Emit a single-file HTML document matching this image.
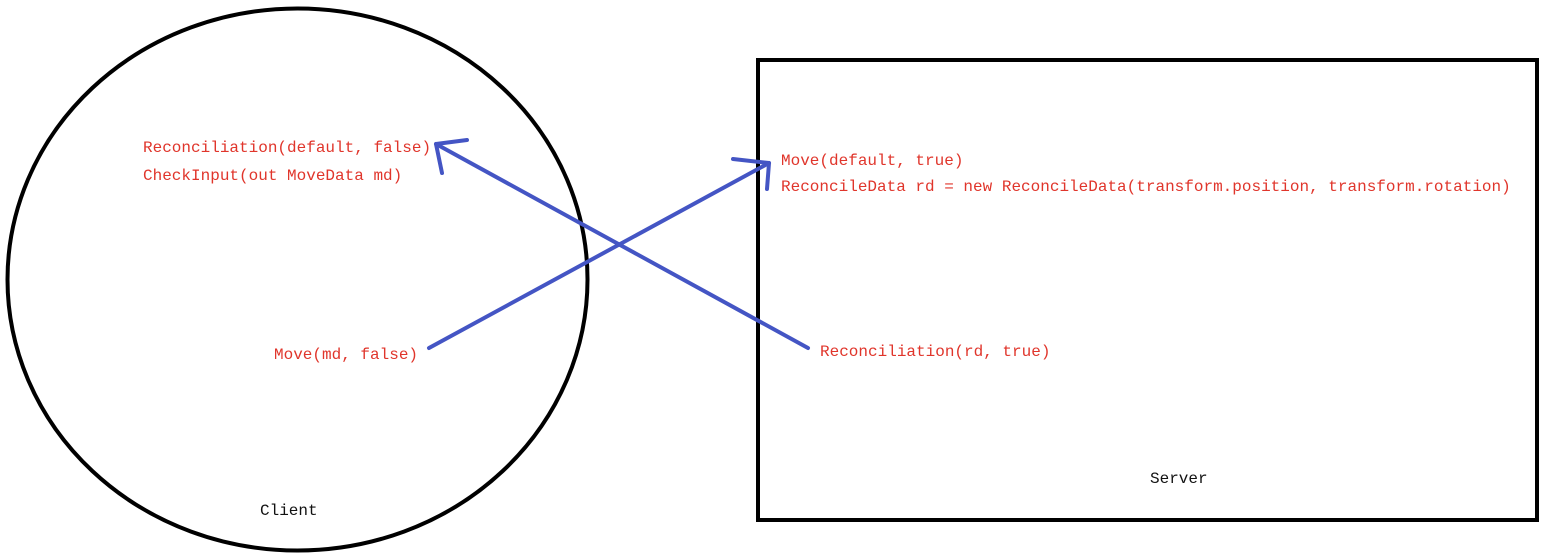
<!DOCTYPE html>
<html><head><meta charset="utf-8"><style>
html,body{margin:0;padding:0;background:#fff;}
svg{display:block;}
text{font-family:"Liberation Mono","Noto Serif CJK SC",monospace;font-size:16px;}
.r{fill:#e0352b;}
.k{fill:#111;}
</style></head><body>
<svg width="1546" height="560" viewBox="0 0 1546 560">
<ellipse cx="297.5" cy="279.5" rx="290" ry="271" fill="none" stroke="#000" stroke-width="4"/>
<rect x="758" y="60" width="779" height="460" fill="none" stroke="#000" stroke-width="4"/>
<g stroke="#4455c4" stroke-width="4" fill="none" stroke-linecap="round" stroke-linejoin="round">
<line x1="808" y1="348" x2="436" y2="144"/>
<polyline points="467,140 436,144 442,173"/>
<line x1="429" y1="348" x2="769" y2="163"/>
<polyline points="733,159 769,163 767,189"/>
</g>
<text class="r" x="143" y="152">Reconciliation(default, false)</text>
<text class="r" x="143" y="180">CheckInput(out MoveData md)</text>
<text class="r" x="274" y="359">Move(md, false)</text>
<text class="r" x="781" y="165">Move(default, true)</text>
<text class="r" x="781" y="191">ReconcileData rd = new ReconcileData(transform.position, transform.rotation)</text>
<text class="r" x="820" y="356">Reconciliation(rd, true)</text>
<text class="k" x="260" y="515">Client</text>
<text class="k" x="1150" y="483">Server</text>
</svg>
</body></html>
